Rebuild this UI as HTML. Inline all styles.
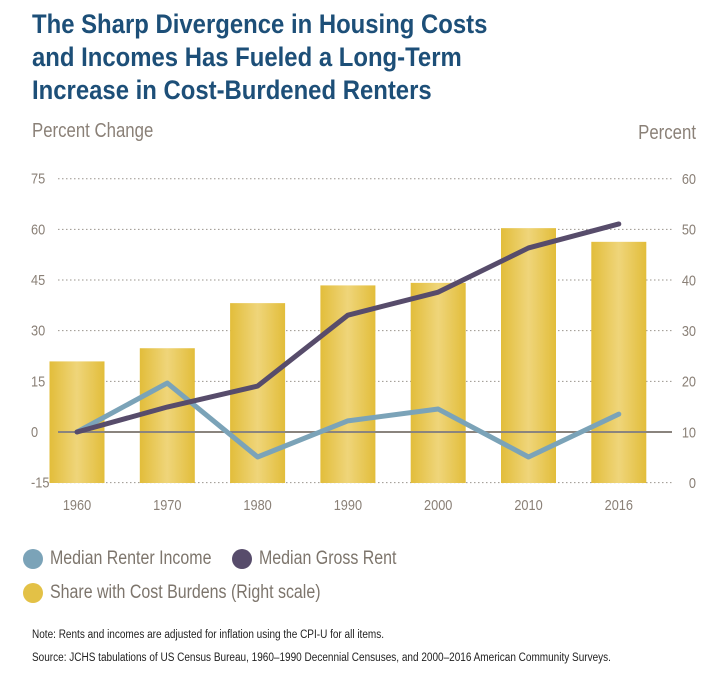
<!DOCTYPE html>
<html><head><meta charset="utf-8">
<style>
body{margin:0;background:#fff;width:714px;height:688px;overflow:hidden;font-family:"Liberation Sans",sans-serif;}
.t{position:absolute;left:32px;top:8px;color:#1d4f78;font-weight:bold;font-size:27px;line-height:33px;transform:scaleX(0.885);transform-origin:0 0;white-space:nowrap;}
.leg{position:absolute;font-size:19px;color:#7d756c;transform:scaleX(0.84);transform-origin:0 0;white-space:nowrap;}
.dot{position:absolute;width:20px;height:20px;border-radius:50%;}
.note{position:absolute;left:32px;font-size:11.5px;color:#222;transform:scaleX(0.87);transform-origin:0 0;white-space:nowrap;}
</style></head><body>
<div class="t">The Sharp Divergence in Housing Costs<br>and Incomes Has Fueled a Long-Term<br>Increase in Cost-Burdened Renters</div>
<svg id="c" width="714" height="688" style="position:absolute;left:0;top:0">
<defs><linearGradient id="g" x1="0" x2="1"><stop offset="0" stop-color="#e2bd3a"/><stop offset="0.5" stop-color="#efd57a"/><stop offset="1" stop-color="#e2bd3a"/></linearGradient></defs>
<text x="32" y="137" font-size="20" fill="#8a8077" font-family="Liberation Sans,sans-serif" transform="translate(32 0) scale(0.84 1) translate(-32 0)">Percent Change</text>
<text x="696" y="139" font-size="20" fill="#8a8077" text-anchor="end" font-family="Liberation Sans,sans-serif" transform="translate(696 0) scale(0.84 1) translate(-696 0)">Percent</text>
</svg>
<div class="dot" style="left:23px;top:549px;background:#7ba3b8"></div>
<div class="leg" style="left:50px;top:548px">Median Renter Income</div>
<div class="dot" style="left:232px;top:549px;background:#574c6b"></div>
<div class="leg" style="left:259px;top:548px">Median Gross Rent</div>
<div class="dot" style="left:23px;top:583px;background:#e3c146"></div>
<div class="leg" style="left:50px;top:582px">Share with Cost Burdens (Right scale)</div>
<div class="note" style="top:629px">Note: Rents and incomes are adjusted for inflation using the CPI-U for all items.</div>
<div class="note" style="top:652px">Source: JCHS tabulations of US Census Bureau, 1960–1990 Decennial Censuses, and 2000–2016 American Community Surveys.</div>
<script>
const years=["1960","1970","1980","1990","2000","2010","2016"];
const share=[24,26.6,35.5,39,39.5,50.3,47.6];
const income=[0,14.5,-7.4,3.3,6.8,-7.4,5.3];
const rent=[0,7.4,13.6,34.6,41.4,54.5,61.6];
const leftTicks=[-15,0,15,30,45,60,75];
const rightTicks=[0,10,20,30,40,50,60];
const svg=document.getElementById('c');const NS='http://www.w3.org/2000/svg';
const yL=v=>432-v*(253.3/75);
const yR=v=>483-v*(304/60);
const x=i=>77+i*90.3;
function mk(t,a){const e=document.createElementNS(NS,t);for(const k in a)e.setAttribute(k,a[k]);svg.appendChild(e);return e;}
const F="Liberation Sans,sans-serif";
leftTicks.forEach((v,i)=>{
 if(v!==0){const l=mk('line',{x1:58,x2:672,y1:yL(v),y2:yL(v),stroke:'#9a948d','stroke-dasharray':'1.5,2.5','stroke-width':1});
 }
 const t=mk('text',{x:31,y:yL(v)+5,'font-size':15,fill:'#8a8077','font-family':F,transform:'translate(31 0) scale(0.85 1) translate(-31 0)'});t.textContent=v;
 
});
rightTicks.forEach(v=>{const t=mk('text',{x:696,y:yR(v)+5,'font-size':15,fill:'#8a8077','text-anchor':'end','font-family':F,transform:'translate(696 0) scale(0.85 1) translate(-696 0)'});t.textContent=v;
 });
share.forEach((v,i)=>{const r=mk('rect',{x:x(i)-27.5,y:yR(v),width:55,height:483-yR(v),fill:'url(#g)'});
 
 const t=mk('text',{x:x(i),y:510,'font-size':15,fill:'#8a8077','text-anchor':'middle','font-family':F,transform:'translate('+x(i)+' 0) scale(0.85 1) translate('+(-x(i))+' 0)'});t.textContent=years[i];
 });
const z=mk('line',{x1:58,x2:672,y1:yL(0),y2:yL(0),stroke:'#8a847e','stroke-width':2});

const p1=mk('polyline',{points:income.map((v,i)=>x(i)+','+yL(v)).join(' '),fill:'none',stroke:'#7ba3b8','stroke-width':5,'stroke-linejoin':'round','stroke-linecap':'round'});

const p2=mk('polyline',{points:rent.map((v,i)=>x(i)+','+yL(v)).join(' '),fill:'none',stroke:'#574c6b','stroke-width':5,'stroke-linejoin':'round','stroke-linecap':'round'});

</script>
</body></html>
